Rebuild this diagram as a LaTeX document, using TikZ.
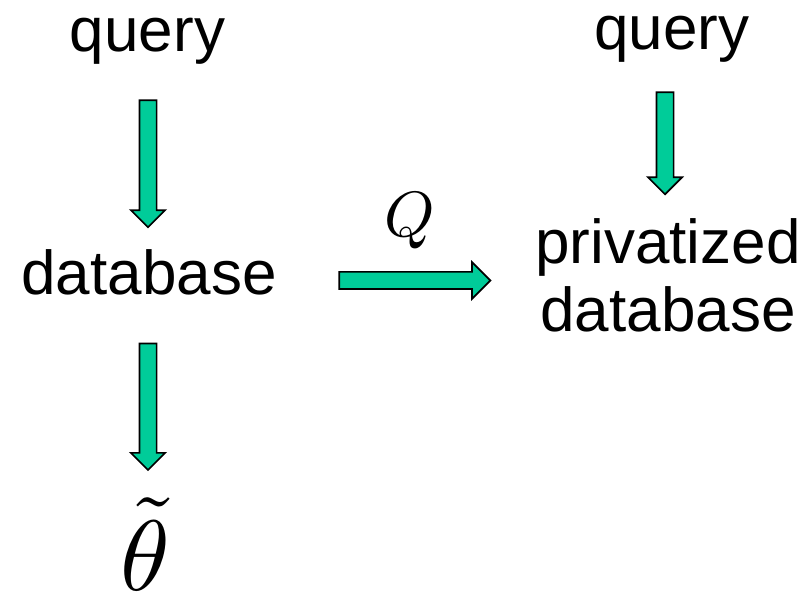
\documentclass[tikz,border=0pt]{standalone}
\usepackage{fontspec}
\setmainfont{Liberation Sans}
\usetikzlibrary{shapes.arrows}

\definecolor{arrowfill}{RGB}{0,204,153}

\tikzset{
  label text/.style={font=\fontsize{62}{68}\selectfont, inner sep=0pt, anchor=base},
  math text/.style={inner sep=0pt, anchor=base},
  blockarrow/.style={single arrow, draw=black, line width=1.7pt, fill=arrowfill,
    inner xsep=0pt, inner ysep=7.75pt, minimum width=0pt,
    single arrow head extend=8.5pt, single arrow tip angle=90,
    sloped, allow upside down, midway}
}

\begin{document}
\begin{tikzpicture}[x=1pt, y=-1pt]
  \useasboundingbox (0,0) rectangle (807,593);

  % left column: query -> database -> estimate
  \node[label text] (q1) at (147.5,51.7) {query};
  \node[label text] (db) at (149,295) {database};
  \node[math text] (theta) at (145,591) {\scalebox{10}{$\tilde{\theta}$}};

  % right column: query -> privatized database
  \node[label text] (q2) at (671.7,50) {query};
  \node[label text, align=center] (pdb) at (668,331.7) {privatized\\database};

  % mechanism label
  \node[math text] (Q) at (410,237) {\scalebox{6.4}{$Q$}};

  % arrow end points
  \coordinate (a1s) at (148,96);
  \coordinate (a1e) at (148,223);
  \coordinate (a2s) at (148,339.3);
  \coordinate (a2e) at (148,465.7);
  \coordinate (a3s) at (335,280.5);
  \coordinate (a3e) at (486,280.5);
  \coordinate (a4s) at (665,88);
  \coordinate (a4e) at (665,190);

  % block arrows
  \path (a1s) -- (a1e) node[blockarrow, minimum height=127pt] (arr1) {};
  \path (a2s) -- (a2e) node[blockarrow, minimum height=126.4pt] (arr2) {};
  \path (a3s) -- (a3e) node[blockarrow, minimum height=151pt, single arrow head extend=9.7pt] (arr3) {};
  \path (a4s) -- (a4e) node[blockarrow, minimum height=102pt] (arr4) {};
\end{tikzpicture}
\end{document}
